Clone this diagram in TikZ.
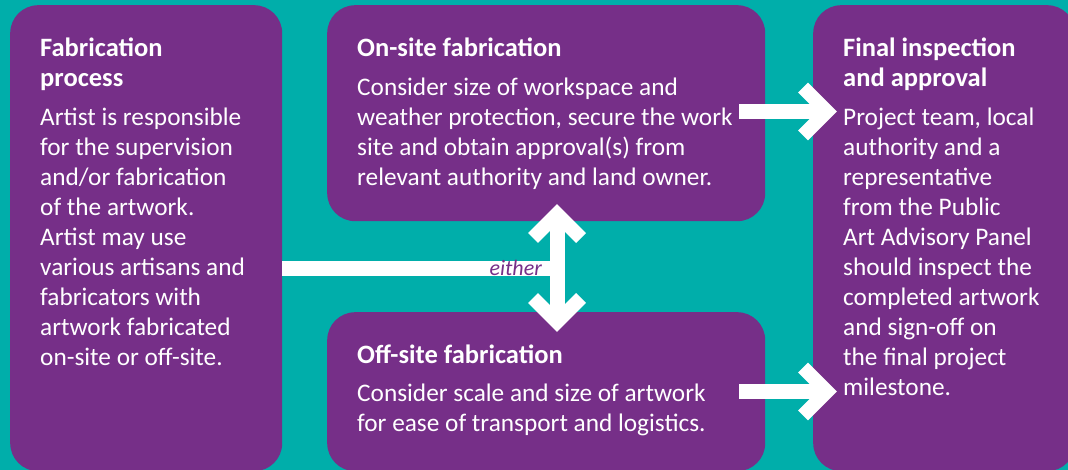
\documentclass[tikz,border=0pt]{standalone}
\usepackage{fontspec}
\setmainfont{Carlito}
\usetikzlibrary{positioning}
\definecolor{plum}{RGB}{118,47,136}
\definecolor{lagoon}{RGB}{0,174,170}
\newcommand{\boxhead}[1]{{\fontsize{26.5}{30}\selectfont\bfseries #1}}
\tikzset{%
    box/.style={rounded corners=28pt,fill=plum,inner sep=0pt,anchor=north west},
    txt/.style={text=white,align=left,anchor=north west,inner sep=0pt,
        font=\fontsize{25.3}{30}\selectfont,execute at begin node=\strut},
    sh2txt/.style={shift={(30,-33)}},
    bar/.style={draw=white,line width=15pt},
    chev/.style={draw=white,line width=14pt,line join=miter,miter limit=10},
    head/.pic={\draw[chev] (-24,24) -- (0,0) -- (-24,-24);}
}

\begin{document}
\begin{tikzpicture}[x=1pt,y=1pt]
    \useasboundingbox (0,0) rectangle (1068,470);
    \clip (0,0) rectangle (1068,470);
    \fill[lagoon] (0,0) rectangle (1068,470);
    %% boxes
    \node[box,minimum width=272pt,minimum height=466pt] (process) at (10,465) {};
    \node[box,minimum width=438pt,minimum height=216pt] (onsite) at (327,465) {};
    \node[box,minimum width=438pt,minimum height=159pt] (offsite) at (327,158) {};
    \node[box,minimum width=262pt,minimum height=466pt] (final) at (813,465) {};
    %% texts
    \node[txt] (process-txt) at ([sh2txt]process.north west)
    {\boxhead{Fabrication}\\ \boxhead{process}\\[9pt]
    Artist is responsible\\ for the supervision\\ and/or fabrication\\
    of the artwork.\\ Artist may use\\ various artisans and\\
    fabricators with\\ artwork fabricated\\ on-site or off-site.};
    \node[txt] (onsite-txt) at ([sh2txt]onsite.north west)
    {\boxhead{On-site fabrication}\\[9pt]
    Consider size of workspace and\\ weather protection, secure the work\\
    site and obtain approval(s) from\\ relevant authority and land owner.};
    \node[txt] (offsite-txt) at ([sh2txt]offsite.north west)
    {\boxhead{Off-site fabrication}\\[8pt]
    Consider scale and size of artwork\\ for ease of transport and logistics.};
    \node[txt] (final-txt) at ([sh2txt]final.north west)
    {\boxhead{Final inspection}\\ \boxhead{and approval}\\[9pt]
    Project team, local\\ authority and a\\ representative\\
    from the Public\\ Art Advisory Panel\\ should inspect the\\
    completed artwork\\ and sign-off on\\ the final project\\ milestone.};
    %% arrows
    \coordinate (split) at (557,201.5);
    \coordinate (up) at (557,256);
    \coordinate (down) at (557,148);
    \coordinate (toptail) at (739,358.5);
    \coordinate (toptip) at (827,358.5);
    \coordinate (lowtail) at (739,78.5);
    \coordinate (lowtip) at (827,78.5);
    \draw[bar] (process.east |- split) -- (split);
    \draw[bar] (up) -- (down);
    \pic[rotate=90] at (up) {head};
    \pic[rotate=-90] at (down) {head};
    \draw[bar] (toptail) -- (toptip);
    \pic at (toptip) {head};
    \draw[bar] (lowtail) -- (lowtip);
    \pic at (lowtip) {head};
    \node[anchor=base east,inner sep=0pt,text=plum,font=\fontsize{22}{26}\selectfont\itshape]
    (either) at (542,194) {either};
\end{tikzpicture}
\end{document}
